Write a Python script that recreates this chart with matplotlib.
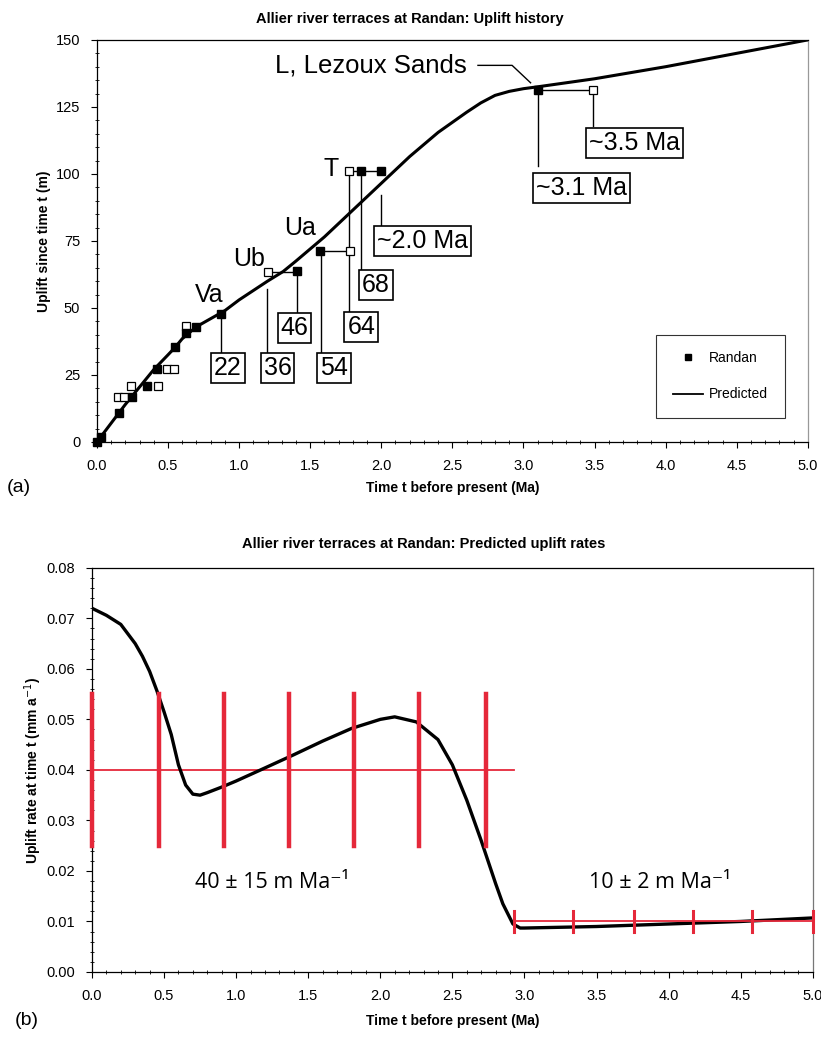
import matplotlib.pyplot as plt
from matplotlib.lines import Line2D

plt.rcParams['font.family'] = ['Liberation Sans', 'DejaVu Sans']

# (a) predicted uplift curve
t_pred = [0.0, 0.1, 0.2, 0.3, 0.4, 0.5, 0.55, 0.6, 0.7, 0.8, 0.9, 1.0, 1.2, 1.31,
          1.4, 1.6, 1.8, 2.0, 2.2, 2.4, 2.6, 2.7, 2.8, 2.9, 3.0, 3.1, 3.5, 4.0, 4.5, 5.0]
u_pred = [0.0, 7.0, 14.0, 20.5, 27.0, 32.5, 35.3, 38.5, 43.0, 46.0, 49.0, 53.0, 60.0, 63.6,
          67.5, 76.5, 86.5, 96.5, 106.5, 115.5, 123.0, 126.5, 129.3, 130.8, 131.8, 132.5,
          135.5, 140.0, 145.0, 150.0]

# Randan terraces (filled = preferred age, open = alternative)
t_filled = [0.0, 0.03, 0.155, 0.245, 0.35, 0.42, 0.55, 0.63, 0.70, 0.87, 1.41, 1.57, 1.86, 2.0, 3.10]
u_filled = [0.0, 2.0, 10.8, 16.8, 20.9, 27.2, 35.4, 40.7, 43.0, 47.8, 63.8, 71.3, 101.0, 101.0, 131.3]
t_open = [0.15, 0.19, 0.24, 0.43, 0.49, 0.54, 0.63, 1.20, 1.78, 1.77, 3.49]
u_open = [16.8, 16.8, 20.9, 20.9, 27.2, 27.2, 43.3, 63.4, 71.3, 101.0, 131.3]

# age pairs joined by a bar
pair_t = [(1.20, 1.41), (1.57, 1.78), (1.77, 2.0), (3.10, 3.49)]
pair_u = [63.4, 71.3, 101.0, 131.3]

# terrace names
names = ['Va', 'Ub', 'Ua', 'T']
name_t = [0.79, 1.07, 1.43, 1.65]
name_u = [54.9, 68.3, 79.8, 101.9]

# boxed ages (ka / Ma): leader from (t, u_top) down to the box
box_text = ['22', '36', '46', '54', '64', '68', '~2.0 Ma', '~3.1 Ma', '~3.5 Ma']
box_lead_t = [0.87, 1.195, 1.41, 1.575, 1.77, 1.86, 2.0, 3.10, 3.49]
box_lead_u0 = [47.8, 57.0, 63.8, 71.3, 101.0, 101.0, 92.0, 131.3, 131.3]
box_t = [0.92, 1.27, 1.39, 1.67, 1.86, 1.96, 2.29, 3.41, 3.78]
box_u = [27.6, 27.6, 42.5, 27.6, 43.0, 58.6, 75.0, 94.8, 111.6]
box_top = [33.6, 33.6, 48.5, 33.6, 49.0, 64.5, 81.0, 103.0, 118.0]

# (b) predicted uplift rate
t_rate = [0.0, 0.1, 0.2, 0.3, 0.35, 0.4, 0.45, 0.5, 0.55, 0.6, 0.65, 0.7, 0.75, 0.8,
          0.9, 1.0, 1.17, 1.4, 1.6, 1.8, 2.0, 2.1, 2.25, 2.4, 2.5, 2.6, 2.7, 2.8, 2.85,
          2.92, 2.97, 3.0, 3.5, 4.0, 4.5, 5.0]
rate = [0.072, 0.0706, 0.0688, 0.065, 0.0625, 0.0595, 0.0557, 0.0515, 0.047, 0.041,
        0.037, 0.0352, 0.035, 0.0355, 0.0366, 0.0378, 0.040, 0.043, 0.0457, 0.0482,
        0.050, 0.0505, 0.0495, 0.046, 0.041, 0.034, 0.026, 0.0175, 0.0135, 0.0095,
        0.0087, 0.0087, 0.009, 0.0095, 0.010, 0.0107]

# rate bands: 40 +/- 15 and 10 +/- 2 m/Ma
band1_t = [0.0, 0.465, 0.915, 1.37, 1.82, 2.27, 2.73]
band1_mid, band1_err, band1_end = 0.040, 0.015, 2.93
band2_t = [2.93, 3.34, 3.76, 4.17, 4.58, 5.0]
band2_mid, band2_err = 0.010, 0.002

red = '#e5283a'

fig = plt.figure(figsize=(8.21, 10.39), dpi=100)

# ---------------- (a) ----------------
ax1 = fig.add_axes([0.118, 0.5746, 0.866, 0.387])
ax1.plot(t_pred, u_pred, color='black', lw=2.2, zorder=3)
for (ta, tb), u in zip(pair_t, pair_u):
    ax1.plot([ta, tb], [u, u], color='black', lw=1, zorder=2)
ax1.plot(t_open, u_open, 's', mfc='white', mec='black', mew=0.9, ms=6, zorder=4)
ax1.plot(t_filled, u_filled, 's', color='black', ms=5.5, zorder=5, clip_on=False)

for n, t, u in zip(names, name_t, name_u):
    ax1.text(t, u, n, fontsize=18, ha='center', va='center')

for s, lt, lu, bt, bu, btop in zip(box_text, box_lead_t, box_lead_u0, box_t, box_u, box_top):
    ax1.plot([lt, lt], [lu, btop], color='black', lw=1, zorder=1)
    ax1.text(bt, bu, s, fontsize=18, ha='center', va='center',
             bbox=dict(boxstyle='square,pad=0.12', fc='white', ec='black', lw=1.2))

ax1.text(1.25, 140.5, 'L, Lezoux Sands', fontsize=18.5, ha='left', va='center')
ax1.plot([2.68, 2.92, 3.05], [140.5, 140.5, 134.0], color='black', lw=1)

ax1.set_xlim(0, 5)
ax1.set_ylim(0, 150)
ax1.set_xticks([0, 0.5, 1, 1.5, 2, 2.5, 3, 3.5, 4, 4.5, 5])
ax1.set_xticks([i / 10 for i in range(51)], minor=True)
ax1.set_yticks([0, 25, 50, 75, 100, 125, 150])
ax1.set_yticks(list(range(0, 151, 5)), minor=True)
ax1.xaxis.set_major_formatter(plt.FormatStrFormatter('%.1f'))
ax1.tick_params(which='major', direction='out', length=4, labelsize=10.5, pad=8)
ax1.tick_params(which='minor', direction='inout', length=3)
ax1.set_title('Allier river terraces at Randan: Uplift history', fontsize=10.5,
              fontweight='bold', x=0.44, pad=12)
ax1.set_xlabel('Time t before present (Ma)', fontsize=10, fontweight='bold', labelpad=6)
ax1.set_ylabel('Uplift since time t (m)', fontsize=10, fontweight='bold', labelpad=3)
for sp in ax1.spines.values():
    sp.set_linewidth(0.9)
ax1.spines['right'].set_color('#999999')

handles = [Line2D([], [], ls='none', marker='s', color='black', ms=5),
           Line2D([], [], color='black', lw=1.3)]
leg = ax1.legend(handles, ['Randan', 'Predicted'], loc='lower right',
                 bbox_to_anchor=(0.977, 0.042), fontsize=10, frameon=True,
                 fancybox=False, edgecolor='black', labelspacing=1.6,
                 borderpad=1.2, handlelength=2.2, handletextpad=0.4)
leg.get_frame().set_linewidth(0.8)

fig.text(0.008, 0.526, '(a)', fontsize=14)

# ---------------- (b) ----------------
ax2 = fig.add_axes([0.112, 0.0645, 0.878, 0.389])
ax2.plot(t_rate, rate, color='black', lw=2.4, zorder=3)

ax2.plot([0, band1_end], [band1_mid, band1_mid], color=red, lw=1.3, zorder=2)
for t in band1_t:
    ax2.plot([t, t], [band1_mid - band1_err, band1_mid + band1_err], color=red, lw=3.2,
             zorder=5, clip_on=False)
ax2.plot([band2_t[0], band2_t[-1]], [band2_mid, band2_mid], color=red, lw=1.3, zorder=4)
for t in band2_t:
    ax2.plot([t, t], [band2_mid - band2_err, band2_mid + band2_err], color=red, lw=2.2,
             zorder=5, clip_on=False)

ax2.text(1.25, 0.0178, '40 ± 15 m Ma⁻¹', fontsize=15.5, family=['Open Sans', 'DejaVu Sans'],
         ha='center', va='center')
ax2.text(3.94, 0.0178, '10 ± 2 m Ma⁻¹', fontsize=15.5, family=['Open Sans', 'DejaVu Sans'],
         ha='center', va='center')

ax2.set_xlim(0, 5)
ax2.set_ylim(0, 0.08)
ax2.set_xticks([0, 0.5, 1, 1.5, 2, 2.5, 3, 3.5, 4, 4.5, 5])
ax2.set_xticks([i / 10 for i in range(51)], minor=True)
ax2.set_yticks([0, 0.01, 0.02, 0.03, 0.04, 0.05, 0.06, 0.07, 0.08])
ax2.set_yticks([i / 500 for i in range(41)], minor=True)
ax2.xaxis.set_major_formatter(plt.FormatStrFormatter('%.1f'))
ax2.yaxis.set_major_formatter(plt.FormatStrFormatter('%.2f'))
ax2.tick_params(which='major', direction='out', length=4, labelsize=10.5, pad=8)
ax2.tick_params(which='minor', direction='inout', length=3)
ax2.set_title('Allier river terraces at Randan: Predicted uplift rates', fontsize=10.5,
              fontweight='bold', x=0.46, pad=14)
ax2.set_xlabel('Time t before present (Ma)', fontsize=10, fontweight='bold', labelpad=8)
ax2.set_ylabel('Uplift rate at time t (mm a$^{-1}$)', fontsize=10, fontweight='bold', labelpad=2)
for sp in ax2.spines.values():
    sp.set_linewidth(0.9)
ax2.spines['right'].set_color('#777777')

fig.text(0.018, 0.013, '(b)', fontsize=14)

fig.savefig('out.png', dpi=100)
